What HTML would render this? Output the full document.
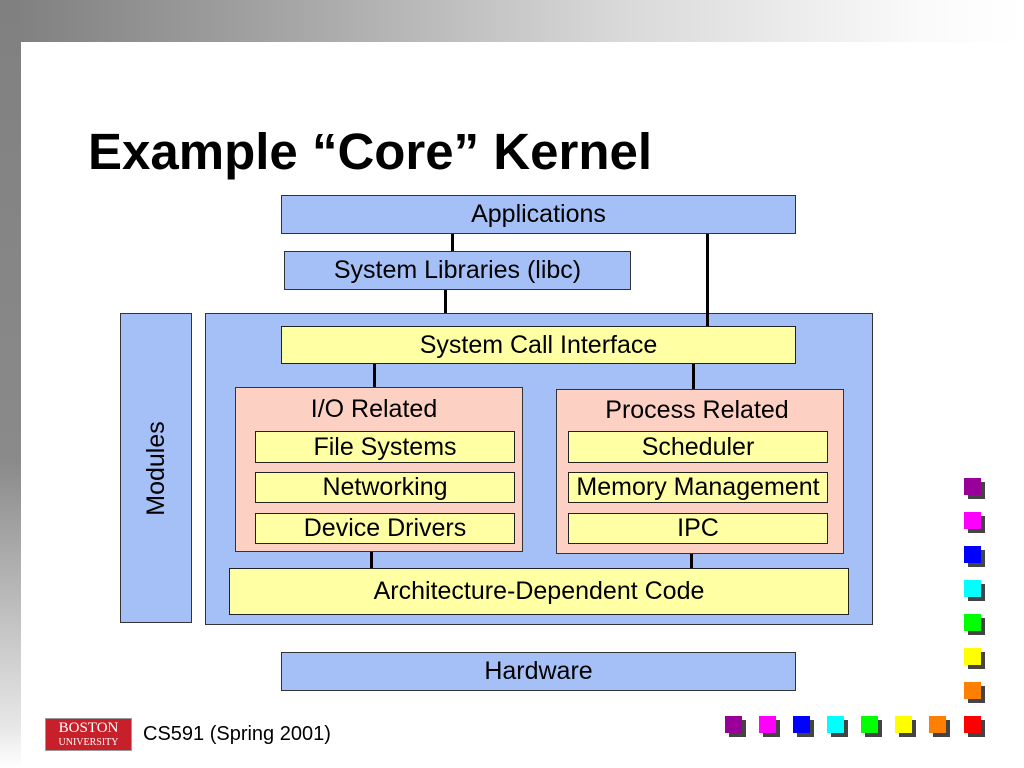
<!DOCTYPE html>
<html><head><style>
body{margin:0;width:1024px;height:768px;position:relative;overflow:hidden;background:#fff;font-family:"Liberation Sans",Arial,sans-serif}
.a{position:absolute;box-sizing:border-box}
.b{background:#a4c0f6;border:1.5px solid #333;}
.y{background:#ffffa4;border:1.5px solid #222;}
.p{background:#fcd0c2;border:1.5px solid #333;}
.t{display:flex;align-items:center;justify-content:center;font-size:25px;color:#000;white-space:nowrap}
.l{position:absolute;background:#000;width:3px}
.sq{position:absolute;width:17px;height:17px;box-shadow:4px 4px 0 #444}
</style></head><body>
<div class="a" style="left:0;top:0;width:1024px;height:42px;background:linear-gradient(to right,#7e7e7e,#a8a8a8 30%,#d8d8d8 60%,#fafafa 90%,#fff)"></div>
<div class="a" style="left:0;top:0;width:21px;height:768px;background:linear-gradient(to bottom,#808080,#8a8a8a 60%,#e8e8e8 95%,#fff)"></div>
<div class="a" style="left:88px;top:122px;font-size:51px;font-weight:bold;white-space:nowrap">Example “Core” Kernel</div>

<div class="l" style="left:451px;top:233px;height:19px"></div>
<div class="l" style="left:444px;top:289px;height:38px"></div>
<div class="l" style="left:706px;top:233px;height:94px"></div>

<div class="a b t" style="left:281px;top:195px;width:515px;height:39px">Applications</div>
<div class="a b t" style="left:284px;top:251px;width:347px;height:39px">System Libraries (libc)</div>
<div class="a b t" style="left:120px;top:313px;width:72px;height:310px"><span style="transform:rotate(-90deg);white-space:nowrap">Modules</span></div>
<div class="a b" style="left:205px;top:313px;width:668px;height:312px"></div>
<div class="l" style="left:706px;top:313px;height:14px"></div>
<div class="l" style="left:373px;top:363px;height:25px"></div>
<div class="l" style="left:692px;top:363px;height:27px"></div>
<div class="l" style="left:370px;top:551px;height:18px"></div>
<div class="l" style="left:690px;top:553px;height:16px"></div>
<div class="a y t" style="left:281px;top:326px;width:515px;height:38px">System Call Interface</div>
<div class="a p" style="left:235px;top:387px;width:288px;height:165px"><div style="text-align:center;font-size:25px;margin-top:7px;margin-left:-10px">I/O Related</div></div>
<div class="a p" style="left:556px;top:389px;width:288px;height:165px"><div style="text-align:center;font-size:25px;margin-top:6px;margin-left:-6px">Process Related</div></div>
<div class="a y t" style="left:255px;top:431px;width:260px;height:32px">File Systems</div>
<div class="a y t" style="left:255px;top:472px;width:260px;height:31px">Networking</div>
<div class="a y t" style="left:255px;top:513px;width:260px;height:31px">Device Drivers</div>
<div class="a y t" style="left:568px;top:431px;width:260px;height:32px">Scheduler</div>
<div class="a y t" style="left:568px;top:472px;width:260px;height:31px">Memory Management</div>
<div class="a y t" style="left:568px;top:513px;width:260px;height:31px">IPC</div>
<div class="a y t" style="left:229px;top:568px;width:620px;height:47px">Architecture-Dependent Code</div>
<div class="a b t" style="left:281px;top:652px;width:515px;height:39px">Hardware</div>

<div class="a" style="left:45px;top:718px;width:87px;height:33px;background:#c8202a;border:1px solid #999;color:#fff;font-family:'Liberation Serif',serif;text-align:center;line-height:1">
<div style="font-size:15px;margin-top:2px">BOSTON</div><div style="font-size:10px;margin-top:2px">UNIVERSITY</div></div>
<div class="a" style="left:143px;top:723px;font-size:20px">CS591 (Spring 2001)</div>

<div class="sq" style="left:964px;top:478px;background:#990099"></div>
<div class="sq" style="left:964px;top:512px;background:#ff00ff"></div>
<div class="sq" style="left:964px;top:546px;background:#0000ff"></div>
<div class="sq" style="left:964px;top:580px;background:#00ffff"></div>
<div class="sq" style="left:964px;top:614px;background:#00ff00"></div>
<div class="sq" style="left:964px;top:648px;background:#ffff00"></div>
<div class="sq" style="left:964px;top:682px;background:#ff8000"></div>
<div class="sq" style="left:725px;top:716px;background:#990099"></div>
<div class="sq" style="left:759px;top:716px;background:#ff00ff"></div>
<div class="sq" style="left:793px;top:716px;background:#0000ff"></div>
<div class="sq" style="left:827px;top:716px;background:#00ffff"></div>
<div class="sq" style="left:861px;top:716px;background:#00ff00"></div>
<div class="sq" style="left:895px;top:716px;background:#ffff00"></div>
<div class="sq" style="left:929px;top:716px;background:#ff8000"></div>
<div class="sq" style="left:964px;top:716px;background:#ff0000"></div>
</body></html>
